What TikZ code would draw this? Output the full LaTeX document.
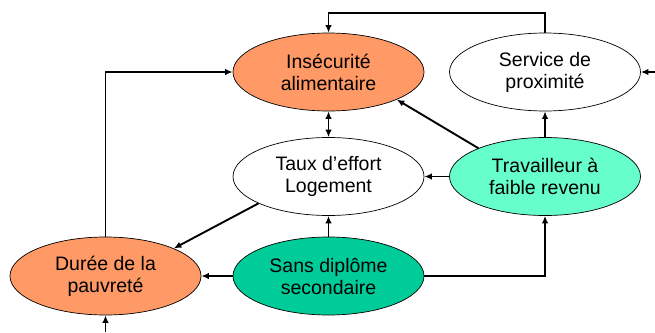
\documentclass[tikz,border=0pt]{standalone}
\usepackage{fontspec}
\setmainfont{Liberation Sans}
\usetikzlibrary{shapes.geometric,arrows.meta}
\definecolor{orangeF}{RGB}{255,153,102}
\definecolor{greenD}{RGB}{0,204,153}
\definecolor{greenL}{RGB}{102,255,204}
\begin{document}
\begin{tikzpicture}[x=1pt,y=-1pt,
  ell/.style={ellipse,draw=black,line width=0.7pt,minimum width=191pt,minimum height=78pt,inner sep=0pt,align=center,font=\fontsize{19.5}{22}\selectfont},
  arr/.style={line width=1.9pt,-{Latex[length=7.5pt,width=6.5pt]}},
  arrb/.style={line width=1.9pt,{Latex[length=7.5pt,width=6.5pt]}-{Latex[length=7.5pt,width=6.5pt]}}]
\useasboundingbox (0,0) rectangle (655,332);
\node[ell,fill=orangeF] (ins) at (328.5,72) {Insécurité\\alimentaire};
\node[ell,fill=white] (serv) at (545,72) {Service de\\proximité};
\node[ell,fill=white] (taux) at (328.5,176.5) {Taux d’effort\\Logement};
\node[ell,fill=greenL] (trav) at (545,176.5) {Travailleur à\\faible revenu};
\node[ell,fill=orangeF] (dur) at (105.5,276) {Durée de la\\pauvreté};
\node[ell,fill=greenD] (sans) at (328.5,276) {Sans diplôme\\secondaire};
\coordinate (rin) at (655,72);
\coordinate (bin) at (105.5,332);
\draw[arr] (serv.north) -- ++(0,-20) -| (ins.north);
\draw[arr] (dur.north) |- (ins.west);
\draw[arrb] (ins.south) -- (taux.north);
\draw[arr] (trav.157) -- (ins.-22);
\draw[arr] (trav.north) -- (serv.south);
\draw[arr] (rin) -- (serv.east);
\draw[arr] (trav.west) -- (taux.east);
\draw[arr] (taux.201) -- (dur.22);
\draw[arr] (sans.north) -- (taux.south);
\draw[arr] (sans.west) -- (dur.east);
\draw[arr] (sans.east) -| (trav.south);
\draw[arr] (bin) -- (dur.south);
\end{tikzpicture}
\end{document}
